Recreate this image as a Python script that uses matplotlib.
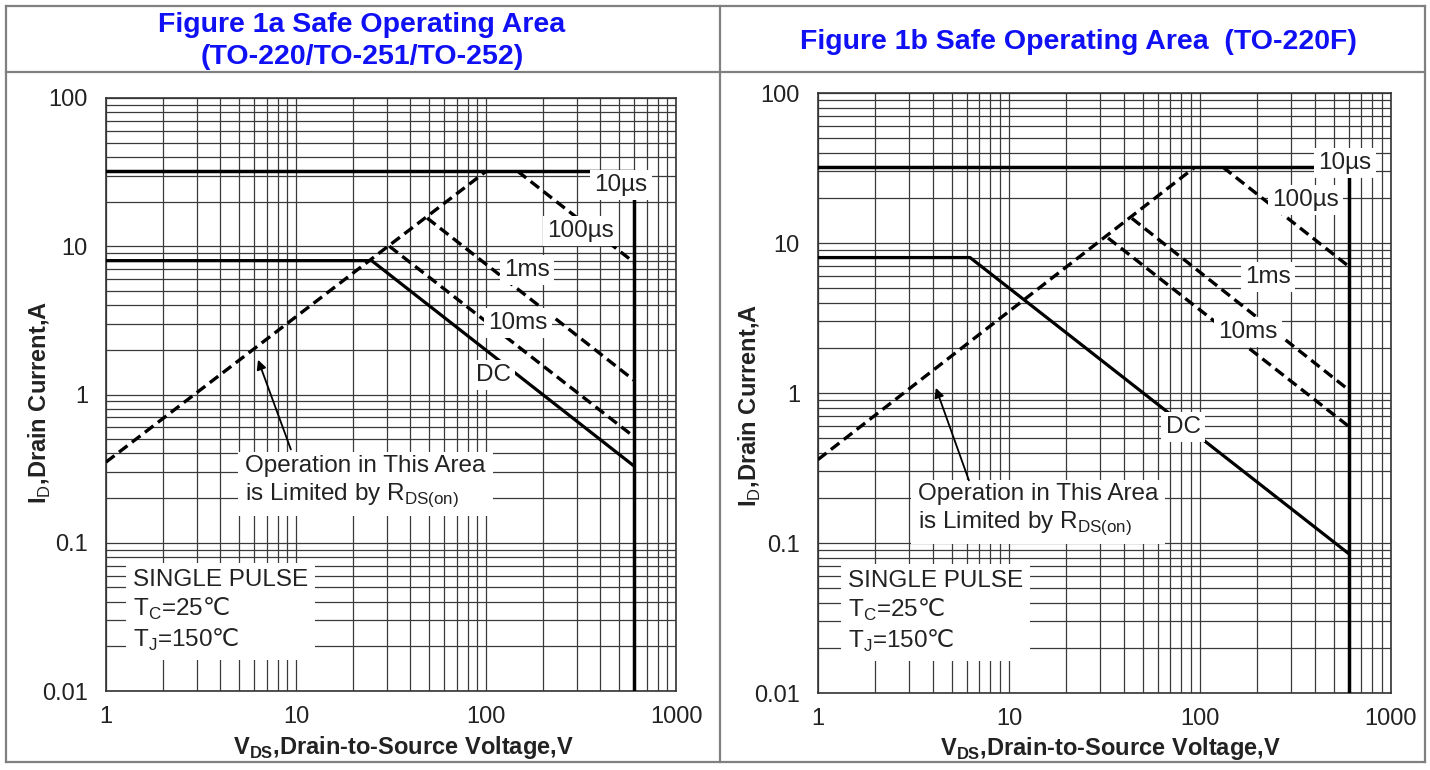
import matplotlib
matplotlib.use('agg')
import matplotlib.pyplot as plt
from matplotlib.lines import Line2D

# +-----------------------+
# | SOA data |
# +-----------------------+
# Figure 1a (TO-220/TO-251/TO-252)
a_lim_v = [1, 600, 600]
a_lim_i = [32, 32, 0.01]
a_rds_v = [1, 100]
a_rds_i = [0.35, 32]
a_100us_v = [147, 600]
a_100us_i = [32, 7.8]
a_1ms_v = [49, 600]
a_1ms_i = [15.5, 1.25]
a_10ms_v = [31, 600]
a_10ms_i = [10.0, 0.52]
a_dc_v = [1, 25, 600]
a_dc_i = [8, 8, 0.33]

# Figure 1b (TO-220F)
b_lim_v = [1, 600, 600]
b_lim_i = [32, 32, 0.01]
b_rds_v = [1, 94]
b_rds_i = [0.36, 32]
b_100us_v = [132, 600]
b_100us_i = [32, 7.0]
b_1ms_v = [44, 600]
b_1ms_i = [14.6, 1.05]
b_10ms_v = [33, 600]
b_10ms_i = [10.8, 0.6]
b_dc_v = [1, 6.25, 600]
b_dc_i = [8, 8, 0.085]

x_ticks = [1, 10, 100, 1000]
x_tick_labels = ['1', '10', '100', '1000']
y_ticks = [0.01, 0.1, 1, 10, 100]
y_tick_labels = ['0.01', '0.1', '1', '10', '100']

titles = ['Figure 1a Safe Operating Area\n(TO-220/TO-251/TO-252)',
          'Figure 1b Safe Operating Area  (TO-220F)']

plt.rcParams.update({'font.family': ['Liberation Sans', 'DejaVu Sans'],
                     'font.size': 15,
                     'mathtext.fontset': 'custom',
                     'mathtext.rm': 'DejaVu Sans',
                     'mathtext.sf': 'Liberation Sans',
                     'mathtext.bf': 'Liberation Sans:bold'})

TXT = '#222222'
BOX = dict(facecolor='white', edgecolor='none', pad=3)
LBL = 17.5


def draw_panel(ax, lim, rds, us100, ms1, ms10, dc, labels):
  ax.set_xscale('log')
  ax.set_yscale('log')
  ax.set_xlim(1, 1000)
  ax.set_ylim(0.01, 100)
  ax.set_xticks(x_ticks, labels=x_tick_labels)
  ax.set_yticks(y_ticks, labels=y_tick_labels)
  ax.tick_params(which='both', length=0, labelcolor=TXT, labelsize=17)
  ax.tick_params(axis='y', pad=13)
  ax.tick_params(axis='x', pad=11)
  ax.grid(which='both', color='#3a3a3a', linewidth=0.9)
  ax.set_axisbelow(True)
  for sp in ax.spines.values():
    sp.set_color('#333333')
    sp.set_linewidth(1.2)
  # solid limits
  ax.plot(lim[0], lim[1], '-', color='black', linewidth=2.5, zorder=3)
  ax.plot(dc[0], dc[1], '-', color='black', linewidth=2.3, zorder=3)
  # dashed lines
  for v, i in (rds, us100, ms1, ms10):
    ax.plot(v, i, color='black', linewidth=2.4, dashes=(3.2, 1.7), zorder=3)
  # curve labels with white boxes
  for txt, fx, fy in labels['curves']:
    ax.text(fx, fy, txt, transform=ax.transAxes, ha='center', va='center',
            fontsize=LBL, color=TXT, bbox=BOX, zorder=5)
  ox, oy = labels['oper']
  ax.text(ox, oy, 'Operation in This Area\nis Limited by R$_\\mathsf{DS(on)}$',
          transform=ax.transAxes, ha='left', va='center', fontsize=LBL,
          color=TXT, linespacing=1.25,
          bbox=dict(facecolor='white', edgecolor='none', pad=5), zorder=5)
  (hx, hy), (tx, ty) = labels['arrow']
  ax.annotate('', xy=(hx, hy), xytext=(tx, ty), xycoords='axes fraction',
              arrowprops=dict(arrowstyle='-|>', color='black', lw=1.3,
                              mutation_scale=14), zorder=6)
  sx, sy = labels['single']
  ax.text(sx, sy, 'SINGLE PULSE\nT$_\\mathsf{C}$=25$\\mathrm{℃}$\n'
          'T$_\\mathsf{J}$=150$\\mathrm{℃}$',
          transform=ax.transAxes, ha='left', va='center', fontsize=LBL,
          color=TXT, linespacing=1.25,
          bbox=dict(facecolor='white', edgecolor='none', pad=5), zorder=5)


def main():
  fig = plt.figure(figsize=(14.3, 7.7), dpi=100)
  ax1 = fig.add_axes([106 / 1430, 79 / 770, 570 / 1430, 593 / 770])
  ax2 = fig.add_axes([818 / 1430, 77 / 770, 573 / 1430, 600 / 770])

  draw_panel(ax1, (a_lim_v, a_lim_i), (a_rds_v, a_rds_i),
             (a_100us_v, a_100us_i), (a_1ms_v, a_1ms_i),
             (a_10ms_v, a_10ms_i), (a_dc_v, a_dc_i),
             {'curves': [('10\u00b5s', 0.9035, 0.853),
                         ('100\u00b5s', 0.833, 0.776),
                         ('1ms', 0.739, 0.710),
                         ('10ms', 0.723, 0.621),
                         ('DC', 0.679, 0.533)],
              'oper': (0.244, 0.352),
              'arrow': ((0.265, 0.563), (0.326, 0.403)),
              'single': (0.047, 0.135)})
  draw_panel(ax2, (b_lim_v, b_lim_i), (b_rds_v, b_rds_i),
             (b_100us_v, b_100us_i), (b_1ms_v, b_1ms_i),
             (b_10ms_v, b_10ms_i), (b_dc_v, b_dc_i),
             {'curves': [('10\u00b5s', 0.920, 0.883),
                         ('100\u00b5s', 0.850, 0.822),
                         ('1ms', 0.785, 0.693),
                         ('10ms', 0.750, 0.602),
                         ('DC', 0.637, 0.443)],
              'oper': (0.1745, 0.305),
              'arrow': ((0.204, 0.513), (0.265, 0.35)),
              'single': (0.052, 0.135)})

  # axis labels
  for ax, xl, yl in ((ax1, (0.521, -0.096), (-0.116, 0.487)),
                     (ax2, (0.51, -0.092), (-0.119, 0.48))):
    ax.set_xlabel('V$_\\mathbf{DS}$,Drain-to-Source Voltage,V',
                  fontsize=17, fontweight='bold', color=TXT)
    ax.set_ylabel('I$_\\mathsf{D}$,Drain Current,A',
                  fontsize=17, fontweight='bold', color=TXT)
    ax.xaxis.set_label_coords(*xl)
    ax.yaxis.set_label_coords(*yl)
    ax.xaxis.label.set_va('center')
    ax.yaxis.label.set_va('center')

  # titles
  fig.text(362 / 1430, 1 - 41 / 770, titles[0], ha='center', va='center',
           fontsize=20.5, fontweight='bold', color='#1010f5', linespacing=1.27)
  fig.text(1078 / 1430, 1 - 42 / 770, titles[1], ha='center', va='center',
           fontsize=20.5, fontweight='bold', color='#1010f5')

  # table frame
  fc = '#808080'
  segs = [((6, 1425), (6, 6)), ((6, 1425), (762, 762)),
          ((6, 6), (6, 762)), ((1425, 1425), (6, 762)),
          ((720, 720), (6, 762)), ((6, 1425), (72, 72))]
  for xs, ys in segs:
    fig.add_artist(Line2D([x / 1430 for x in xs], [1 - y / 770 for y in ys],
                          transform=fig.transFigure, color=fc, linewidth=1.6))

  fig.savefig('out.png', dpi=100)


if __name__ == '__main__':
  main()
